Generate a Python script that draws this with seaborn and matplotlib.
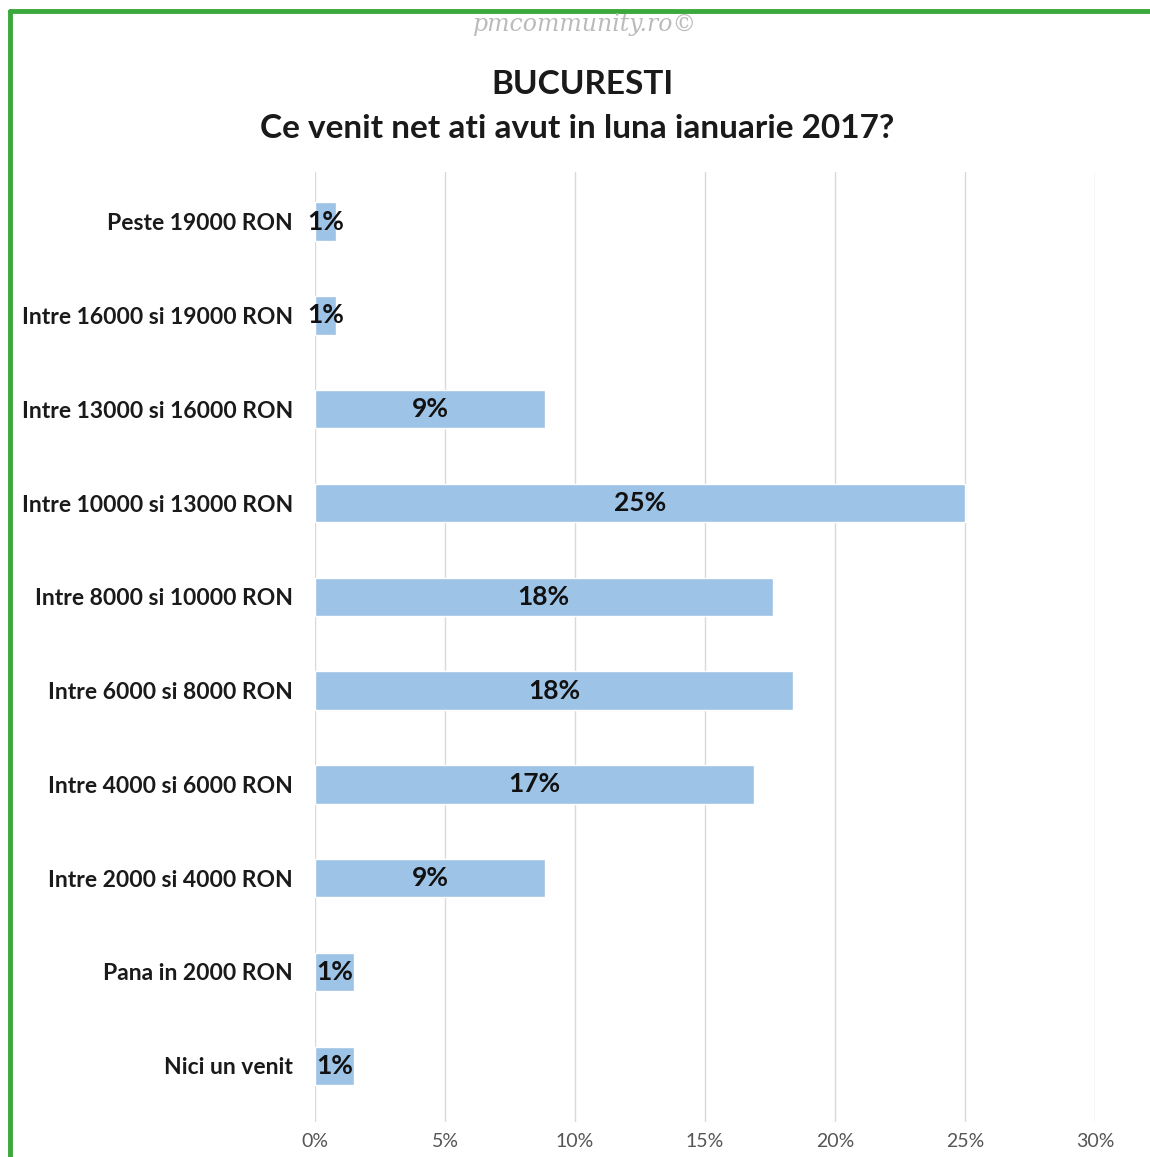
import matplotlib
matplotlib.use("Agg")
import matplotlib.pyplot as plt
import pandas as pd
import seaborn as sns
from matplotlib.lines import Line2D

categories = [
    "Peste 19000 RON",
    "Intre 16000 si 19000 RON",
    "Intre 13000 si 16000 RON",
    "Intre 10000 si 13000 RON",
    "Intre 8000 si 10000 RON",
    "Intre 6000 si 8000 RON",
    "Intre 4000 si 6000 RON",
    "Intre 2000 si 4000 RON",
    "Pana in 2000 RON",
    "Nici un venit",
]
values = [0.8, 0.8, 8.85, 25.0, 17.6, 18.4, 16.9, 8.85, 1.5, 1.5]
labels = ["1%", "1%", "9%", "25%", "18%", "18%", "17%", "9%", "1%", "1%"]
x_ticks = [0, 5, 10, 15, 20, 25, 30]

df = pd.DataFrame({"cat": categories, "val": values})

sns.set_theme(style="white")
plt.rcParams["font.family"] = ["Lato", "DejaVu Sans"]

fig = plt.figure(figsize=(11.5, 11.57), dpi=100)
ax = fig.add_axes([315 / 1150, 1 - 1122 / 1157, 780 / 1150, (1122 - 172) / 1157])

sns.barplot(data=df, x="val", y="cat", order=categories, color="#9DC3E6",
            saturation=1, width=0.41, ax=ax, zorder=2)

for i, (v, lab) in enumerate(zip(values, labels)):
    ax.text(v / 2, i, lab, ha="center", va="center", fontsize=19,
            fontweight="bold", color="#111111", zorder=3)

ax.set_xlim(0, 30)
ax.set_ylim(9.6, -0.53)
ax.set_xticks(x_ticks)
ax.set_xticklabels([f"{t}%" for t in x_ticks], color="#555555", fontsize=14)
ax.xaxis.grid(True, color="#d9d9d9", linewidth=1, zorder=0)
ax.tick_params(axis="x", length=0, pad=8)
ax.tick_params(axis="y", length=0, pad=16, labelsize=16.5)
for t in ax.get_yticklabels():
    t.set_fontweight("bold")
    t.set_color("#1a1a1a")
ax.set_xlabel("")
ax.set_ylabel("")
sns.despine(ax=ax, left=True, bottom=True)

fig.text(585 / 1150, 1 - 25 / 1157, "pmcommunity.ro\u00a9", ha="center", va="center",
         fontsize=17, style="italic", family="DejaVu Serif", color="#bbbbbb")
fig.text(582 / 1150, 1 - 84 / 1157, "BUCURESTI", ha="center", va="center",
         fontsize=24, fontweight="bold", color="#1a1a1a")
fig.text(577 / 1150, 1 - 128 / 1157, "Ce venit net ati avut in luna ianuarie 2017?",
         ha="center", va="center", fontsize=24, fontweight="bold", color="#1a1a1a")

green = "#3aa83a"
fig.add_artist(Line2D([10 / 1150, 10 / 1150], [0, 1 - 11 / 1157], transform=fig.transFigure,
                      color=green, linewidth=3.5))
fig.add_artist(Line2D([10 / 1150, 1], [1 - 11 / 1157, 1 - 11 / 1157], transform=fig.transFigure,
                      color=green, linewidth=3.5))

fig.savefig("out.png", dpi=100)
